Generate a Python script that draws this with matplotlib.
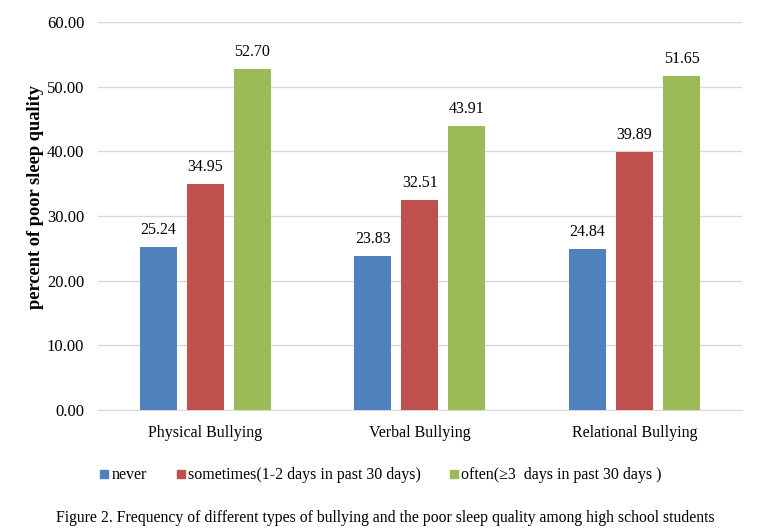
import numpy as np
import matplotlib.pyplot as plt
from matplotlib.lines import Line2D

categorii = ["Physical Bullying", "Verbal Bullying", "Relational Bullying"]
serii = ["never", "sometimes(1-2 days in past 30 days)", "often(\u22653  days in past 30 days )"]
never = [25.24, 23.83, 24.84]
sometimes = [34.95, 32.51, 39.89]
often = [52.70, 43.91, 51.65]
culori = ["#4F81BD", "#C0504D", "#9BBB59"]
y_ticks = [0, 10, 20, 30, 40, 50, 60]

plt.rcParams['font.family'] = ['Liberation Serif', 'DejaVu Serif']

fig = plt.figure(figsize=(7.6, 5.28), dpi=100)
# zona graficului: 98..742 px pe orizontala, 22..410 px pe verticala
ax = fig.add_axes([0.129, 0.2235, 0.847, 0.735])

x = np.arange(len(categorii))
latime = 0.172
pas = 0.219
for i, (valori, culoare) in enumerate(zip([never, sometimes, often], culori)):
    pozitii = x + (i - 1) * pas
    ax.bar(pozitii, valori, width=latime, color=culoare, zorder=3)
    for p, v in zip(pozitii, valori):
        ax.text(p, v + 2.65, f"{v:.2f}", ha='center', va='center', fontsize=11.5)

ax.set_xlim(-0.5, 2.5)
ax.set_ylim(0, 60)
ax.set_yticks(y_ticks)
ax.set_yticklabels([f"{t:.2f}" for t in y_ticks], fontsize=12)
ax.set_xticks(x)
ax.set_xticklabels(categorii, fontsize=11.5)
ax.tick_params(axis='x', length=0, pad=11)
ax.tick_params(axis='y', length=0, pad=10)
ax.grid(axis='y', color='#D9D9D9', linewidth=1, zorder=0)
for s in ['top', 'right', 'left']:
    ax.spines[s].set_visible(False)
ax.spines['bottom'].set_color('#D9D9D9')

fig.text(35.5 / 760, 1 - 197 / 528, "percent of poor sleep quality", rotation=90,
         ha='center', va='center', fontsize=13.2, fontweight='bold')

handles = [Line2D([], [], marker='s', linestyle='', color=c, markersize=5.5) for c in culori]
fig.legend(handles, serii, loc='center', bbox_to_anchor=(0.501, 0.10), ncol=3, frameon=False,
           fontsize=11.5, handlelength=0.6, handletextpad=0.15, columnspacing=1.8,
           borderpad=0, borderaxespad=0)

fig.text(385 / 760, 0.019, "Figure 2. Frequency of different types of bullying and the poor sleep quality among high school students",
         ha='center', va='center', fontsize=11.3)

fig.savefig("out.png", dpi=100)
